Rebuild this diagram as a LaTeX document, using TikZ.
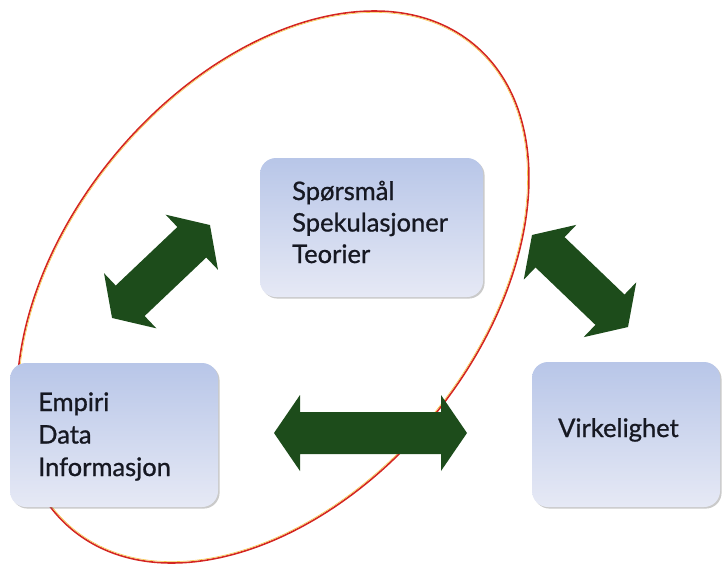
\documentclass[tikz,border=0pt]{standalone}
\usepackage{fontspec}
\setmainfont{Lato}
\newfontfamily\boxfont{Lato}[FakeBold=0.9]
\usetikzlibrary{shadows}
\definecolor{arrowgreen}{RGB}{29,76,27}
\definecolor{ellred}{RGB}{212,38,34}
\definecolor{ellyel}{RGB}{246,196,70}
\definecolor{boxA}{RGB}{184,198,232}
\definecolor{boxB}{RGB}{230,233,245}
\definecolor{txtcol}{RGB}{22,24,34}
\tikzset{
  box/.style={rounded corners=16pt, top color=boxA, bottom color=boxB, draw=none,
    drop shadow={shadow xshift=1.6pt, shadow yshift=-1.6pt, opacity=0.35, fill=black!60},
    inner sep=0pt},
  txt/.style={font=\boxfont\fontsize{25.5}{31.5}\selectfont, text=txtcol, inner sep=0pt, anchor=base west},
  bigarrow/.style={fill=arrowgreen, draw=none},
}
\newcommand\dblarrow[5]{% cx, cy, angle, length, head length
  \begin{scope}[shift={(#1,#2)}, rotate=#3]
    \fill[bigarrow] ({-#4/2},0) -- ({-#4/2+#5},38) -- ({-#4/2+#5},21) -- ({#4/2-#5},21)
      -- ({#4/2-#5},38) -- ({#4/2},0) -- ({#4/2-#5},-38) -- ({#4/2-#5},-21)
      -- ({-#4/2+#5},-21) -- ({-#4/2+#5},-38) -- cycle;
  \end{scope}}
\begin{document}
\begin{tikzpicture}[x=1pt, y=-1pt]
  \useasboundingbox (0,0) rectangle (728,565);
  % ellipse
  \coordinate (ec) at (273,287);
  \draw[ellred, line width=1.6pt, rotate around={50.4:(ec)}] (ec) ellipse [x radius=315, y radius=206];
  \draw[ellyel, line width=0.6pt, rotate around={50.4:(ec)}] (ec) ellipse [x radius=313.6, y radius=204.6];
  % boxes
  \node[box, minimum width=223pt, minimum height=139pt] (q) at (371.5,227.5) {};
  \node[box, minimum width=208pt, minimum height=144pt] (e) at (114,435) {};
  \node[box, minimum width=188pt, minimum height=145pt] (v) at (626,434.5) {};
  % texts
  \node[txt] (qt) at (292,200) {\begin{tabular}[t]{@{}l@{}}Spørsmål\\Spekulasjoner\\Teorier\end{tabular}};
  \node[txt, font=\boxfont\fontsize{25.5}{32.5}\selectfont] (et) at (38,411) {\begin{tabular}[t]{@{}l@{}}Empiri\\Data\\Informasjon\end{tabular}};
  \node[txt] (vt) at (558,437) {Virkelighet};
  % arrows
  \dblarrow{161}{271.5}{43.5}{135}{25}
  \dblarrow{580}{281}{-43.8}{133}{25}
  \dblarrow{370.5}{433}{0}{193}{26}
\end{tikzpicture}
\end{document}
